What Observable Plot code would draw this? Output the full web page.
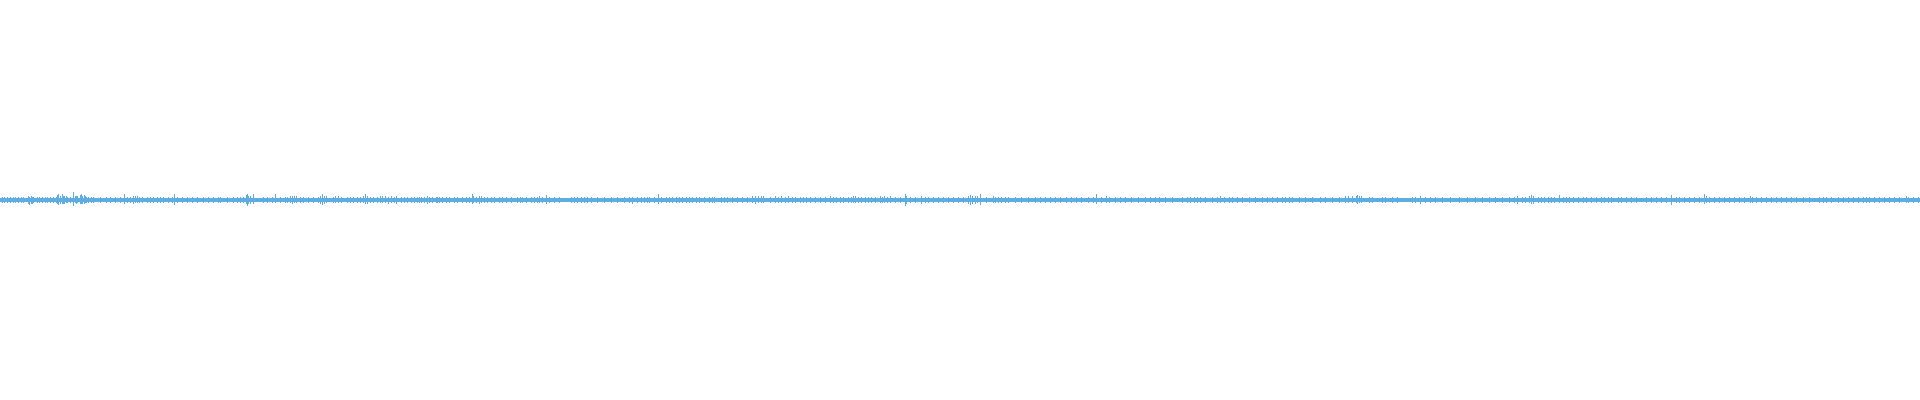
<!DOCTYPE html>
<html>
<head>
<meta charset="utf-8">
<script src="https://cdn.jsdelivr.net/npm/d3@7"></script>
<script src="https://cdn.jsdelivr.net/npm/@observablehq/plot@0.6"></script>
<style>
  html, body { margin: 0; padding: 0; background: #ffffff; overflow: hidden; }
  #chart svg { display: block; }
</style>
</head>
<body>
<div id="chart"></div>
<script>
// Waveform: 1920 samples (one column each), amplitude in [-1, 1]
const sampleCount = 1920;

// noise floor envelope (present on every column)
const floorHi = 0.01;
const floorLo = -0.01;

// small 1-column bumps above the floor
const tickHi = 0.015;
const tickLo = -0.014;
const tickX = [
  2,4,7,10,13,15,18,21,23,33,37,39,42,45,47,50,53,56,67,70,86,88,91,93,100,106,110,115,120,127,130,139,142,147,150,153,157,160,163,168,172,177,182,187,192,197,203,208,213,218,220,227,233,237,240,243,263,267,272,280,285,287,300,303,308,313,318,333,341,347,350,353,357,360,370,373,377,
  401,404,407,411,421,424,432,436,439,442,446,449,454,457,462,466,469,476,484,487,491,494,499,502,506,511,526,531,534,537,542,549,554,559,571,574,577,581,584,587,591,597,604,611,617,624,629,637,641,644,647,654,661,666,669,672,676,679,682,686,689,692,696,699,704,709,721,724,727,732,737,742,747,
  770,792,795,800,803,806,810,815,820,825,833,836,840,843,848,851,858,861,865,868,871,875,895,900,910,915,925,928,933,938,943,948,953,958,963,986,998,1001,1005,1008,1015,1021,1028,1035,1040,1045,1050,1055,1060,1066,1071,1076,1081,1088,1093,1101,1115,1120,1125,1131,1138,1145,1150,
  1155,1159,1165,1172,1182,1187,1190,1194,1197,1200,1205,1212,1217,1224,1229,1232,1237,1242,1249,1255,1262,1267,1272,1277,1282,1285,1289,1292,1299,1305,1312,1320,1325,1332,1339,1369,1372,1382,1385,1392,1397,1412,1415,1425,1430,1435,1442,1450,1459,1467,1475,1482,1489,1495,1502,1509,1514,1522,1525,
  1538,1541,1544,1548,1551,1554,1563,1566,1569,1573,1578,1583,1586,1591,1596,1601,1604,1608,1611,1618,1621,1626,1631,1636,1646,1651,1656,1661,1666,1676,1679,1684,1689,1694,1699,1709,1714,1719,1724,1729,1734,1739,1744,1756,1761,1766,1771,1776,1781,1786,1791,1796,1803,1809,1819,1823,1826,1831,1838,1843,1848,1853,1858,1863,1866,1869,1874,1879,1884,1889,1894,1899,1913,1918
];

// larger single-column peaks: sample index, upper and lower amplitude
const peakX = [
  28,29,31,32,57,58,60,62,63,64,66,73,75,76,77,80,81,82,84,85,124,133,135,137,174,246,247,248,250,253,275,290,292,294,296,320,322,324,326,335,338,363,365,367,380,382,
  385,388,391,394,396,414,417,419,427,429,437,472,473,479,481,517,520,522,539,546,632,649,658,712,714,752,755,758,761,763,
  775,778,781,785,788,830,853,855,880,882,884,887,890,905,906,921,968,970,972,975,977,980,993,995,1096,1106,1109,
  1220,1345,1348,1352,1356,1357,1359,1361,1420,1517,1529,1531,1533,
  1559,1671,1704,1706,1750,1752,1906,1908
];
const peakHi = [
  0.022,0.017,0.02,0.015,0.025,0.032,0.02,0.028,0.018,0.022,0.02,0.04,0.022,0.018,0.02,0.025,0.032,0.02,0.025,0.018,0.028,0.022,0.018,0.022,0.028,0.025,0.03,0.02,0.022,0.032,0.028,0.02,0.022,0.018,0.02,0.022,0.028,0.02,0.018,0.02,0.022,0.022,0.028,0.018,0.022,0.018,
  0.019,0.017,0.019,0.017,0.019,0.017,0.017,0.015,0.019,0.017,0.017,0.028,0.02,0.022,0.019,0.017,0.017,0.015,0.022,0.025,0.017,0.017,0.028,0.017,0.017,0.02,0.022,0.019,0.022,0.018,
  0.018,0.016,0.018,0.017,0.018,0.022,0.022,0.018,0.018,0.016,0.018,0.017,0.018,0.032,0.022,0.022,0.022,0.025,0.019,0.02,0.018,0.028,0.018,0.017,0.028,0.018,0.017,
  0.022,0.022,0.019,0.018,0.022,0.025,0.02,0.018,0.022,0.022,0.02,0.025,0.019,
  0.025,0.025,0.032,0.022,0.018,0.016,0.018,0.016
];
const peakLo = [
  -0.02,-0.023,-0.018,-0.02,-0.02,-0.023,-0.018,-0.02,-0.022,-0.018,-0.015,-0.032,-0.015,-0.02,-0.017,-0.02,-0.022,-0.018,-0.018,-0.015,-0.018,-0.018,-0.015,-0.017,-0.023,-0.02,-0.028,-0.022,-0.018,-0.02,-0.015,-0.015,-0.018,-0.015,-0.017,-0.018,-0.023,-0.02,-0.015,-0.015,-0.015,-0.017,-0.02,-0.018,-0.015,-0.013,
  -0.015,-0.018,-0.015,-0.016,-0.02,-0.015,-0.013,-0.015,-0.018,-0.015,-0.015,-0.02,-0.017,-0.018,-0.015,-0.015,-0.013,-0.015,-0.015,-0.02,-0.018,-0.015,-0.02,-0.015,-0.013,-0.015,-0.018,-0.015,-0.017,-0.015,
  -0.015,-0.015,-0.013,-0.015,-0.013,-0.015,-0.015,-0.013,-0.015,-0.017,-0.015,-0.016,-0.015,-0.028,-0.02,-0.02,-0.02,-0.023,-0.018,-0.02,-0.016,-0.023,-0.015,-0.013,-0.02,-0.015,-0.013,
  -0.015,-0.015,-0.017,-0.015,-0.017,-0.018,-0.017,-0.015,-0.02,-0.018,-0.017,-0.02,-0.018,
  -0.015,-0.023,-0.02,-0.017,-0.015,-0.013,-0.015,-0.013
];

const color = "#5dade2";

const floorData = [{x1: 0, x2: sampleCount, lo: floorLo, hi: floorHi}];
const ticks = tickX.map(i => ({x1: i, x2: i + 1, lo: tickLo, hi: tickHi}));
const peaks = peakX.map((s, k) => ({x1: s, x2: s + 1, lo: peakLo[k], hi: peakHi[k]}));

const chart = Plot.plot({
  width: 1920,
  height: 400,
  margin: 0,
  style: {background: "#ffffff"},
  x: {domain: [0, sampleCount], axis: null},
  y: {domain: [-1, 1], axis: null},
  marks: [
    Plot.rect(floorData, {x1: "x1", x2: "x2", y1: "lo", y2: "hi", fill: color, shapeRendering: "crispEdges"}),
    Plot.rect(ticks, {x1: "x1", x2: "x2", y1: "lo", y2: "hi", fill: color, shapeRendering: "crispEdges"}),
    Plot.rect(peaks, {x1: "x1", x2: "x2", y1: "lo", y2: "hi", fill: color, shapeRendering: "crispEdges"})
  ]
});
document.getElementById("chart").appendChild(chart);
</script>
</body>
</html>
